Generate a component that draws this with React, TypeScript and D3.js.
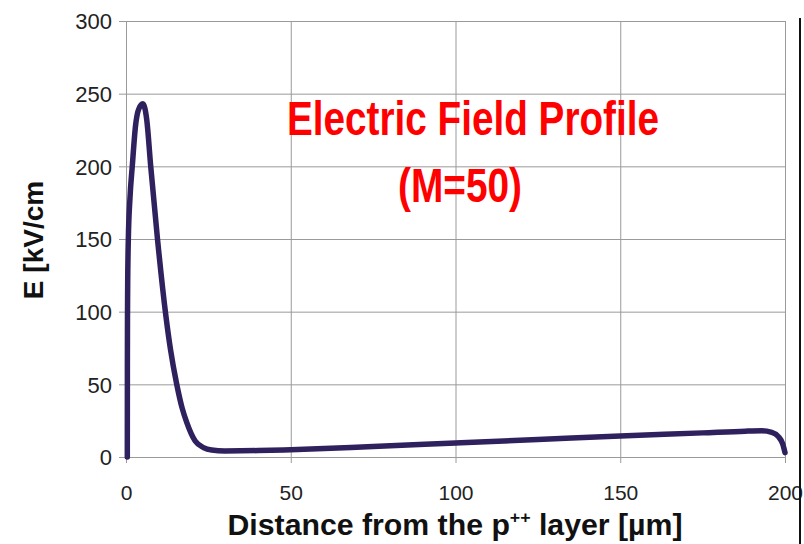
import React, { useEffect, useRef } from 'react'
import * as d3 from 'd3'

// distance from p++ layer (um) and field (kV/cm)
const distance = [
  0.4, 0.42, 0.45, 0.5, 0.7, 1.2, 1.9, 2.9, 3.8, 5.1, 6.3, 7.5, 9.6, 12, 13.5, 15.4, 17, 18.4,
  21, 23.5, 26, 30, 40, 50, 75, 100, 125, 150, 175, 188, 193, 196, 198, 199.3, 200,
]
const field = [
  0, 60, 95, 115, 149, 178, 200, 228, 239, 243, 232, 200, 149, 99, 74, 50, 34, 24,
  11, 6.5, 4.8, 4.2, 4.4, 5, 7.2, 9.6, 12, 14.5, 16.6, 17.8, 18, 17, 14, 9, 3,
]
const xTicks = [0, 50, 100, 150, 200]
const yTicks = [0, 50, 100, 150, 200, 250, 300]

const W = 804
const H = 544
const margin = { top: 21, right: 19, bottom: 87, left: 126 }

const App = () => {
  const svgRef = useRef(null)
  const innerWidth = W - margin.left - margin.right
  const innerHeight = H - margin.top - margin.bottom

  useEffect(() => {
    const svg = d3.select(svgRef.current)
    svg.selectAll('*').remove()
    const font = '"Liberation Sans", Arial, sans-serif'

    const xScale = d3.scaleLinear().domain([0, 200]).range([0, innerWidth])
    const yScale = d3.scaleLinear().domain([0, 300]).range([innerHeight, 0])

    const chart = svg.append('g').attr('transform', `translate(${margin.left}, ${margin.top})`)

    // grid + x axis
    const xAxisGroup = chart
      .append('g')
      .attr('transform', `translate(0, ${innerHeight})`)
      .call(d3.axisBottom(xScale).tickValues(xTicks).tickSize(-innerHeight).tickSizeOuter(0).tickPadding(28))
    xAxisGroup.selectAll('line').attr('stroke', '#9a9a9a').attr('stroke-width', 1)
    xAxisGroup.select('.domain').attr('stroke', '#9a9a9a')
    xAxisGroup
      .selectAll('.tick')
      .append('line')
      .attr('y1', 0)
      .attr('y2', 6)
      .attr('stroke', '#9a9a9a')
    xAxisGroup
      .selectAll('text')
      .attr('fill', '#222')
      .attr('font-family', font)
      .attr('font-size', 21)
      .attr('dy', '0.71em')

    // grid + y axis
    const yAxisGroup = chart
      .append('g')
      .call(d3.axisLeft(yScale).tickValues(yTicks).tickSize(-innerWidth).tickSizeOuter(0).tickPadding(14))
    yAxisGroup.selectAll('line').attr('stroke', '#9a9a9a').attr('stroke-width', 1)
    yAxisGroup.select('.domain').attr('stroke', '#9a9a9a')
    yAxisGroup
      .selectAll('.tick')
      .append('line')
      .attr('x1', 0)
      .attr('x2', -7)
      .attr('stroke', '#9a9a9a')
    yAxisGroup
      .selectAll('text')
      .attr('fill', '#222')
      .attr('font-family', font)
      .attr('font-size', 22)
      .attr('dy', '0.36em')

    // the curve
    const points = distance.map((d, i) => [d, field[i]])
    const line = d3
      .line()
      .x((d) => xScale(d[0]))
      .y((d) => yScale(d[1]))
      .curve(d3.curveMonotoneX)
    chart
      .append('path')
      .datum(points)
      .attr('d', line)
      .attr('fill', 'none')
      .attr('stroke', '#2e215e')
      .attr('stroke-width', 5.5)
      .attr('stroke-linejoin', 'round')
      .attr('stroke-linecap', 'round')

    // titles
    svg
      .append('text')
      .attr('x', 473)
      .attr('y', 135)
      .attr('text-anchor', 'middle')
      .attr('font-family', font)
      .attr('font-weight', 'bold')
      .attr('font-size', 48)
      .attr('fill', '#ff0000')
      .attr('textLength', 372)
      .attr('lengthAdjust', 'spacingAndGlyphs')
      .text('Electric Field Profile')
    svg
      .append('text')
      .attr('x', 460)
      .attr('y', 202)
      .attr('text-anchor', 'middle')
      .attr('font-family', font)
      .attr('font-weight', 'bold')
      .attr('font-size', 48)
      .attr('fill', '#ff0000')
      .attr('textLength', 124)
      .attr('lengthAdjust', 'spacingAndGlyphs')
      .text('(M=50)')

    const xTitle = svg
      .append('text')
      .attr('x', 455)
      .attr('y', 535)
      .attr('text-anchor', 'middle')
      .attr('font-family', font)
      .attr('font-weight', 'bold')
      .attr('font-size', 29)
      .attr('fill', '#111')
      .attr('textLength', 455)
      .attr('lengthAdjust', 'spacingAndGlyphs')
    xTitle.append('tspan').text('Distance from the p')
    xTitle.append('tspan').attr('font-size', 17).attr('dy', -12).text('++')
    xTitle.append('tspan').attr('dy', 12).text(' layer [\u00b5m]')

    svg
      .append('text')
      .attr('transform', 'translate(43, 240) rotate(-90)')
      .attr('text-anchor', 'middle')
      .attr('font-family', font)
      .attr('font-weight', 'bold')
      .attr('font-size', 28)
      .attr('fill', '#111')
      .text('E [kV/cm')

    // frame edge on the right
    svg
      .append('line')
      .attr('x1', 800)
      .attr('x2', 800)
      .attr('y1', 18)
      .attr('y2', H)
      .attr('stroke', '#111')
      .attr('stroke-width', 2)
  }, [innerWidth, innerHeight])

  return (
    <svg
      ref={svgRef}
      width={W}
      height={H}
      style={{ position: 'absolute', top: 0, left: 0, background: '#fff' }}
    />
  )
}

export default App
